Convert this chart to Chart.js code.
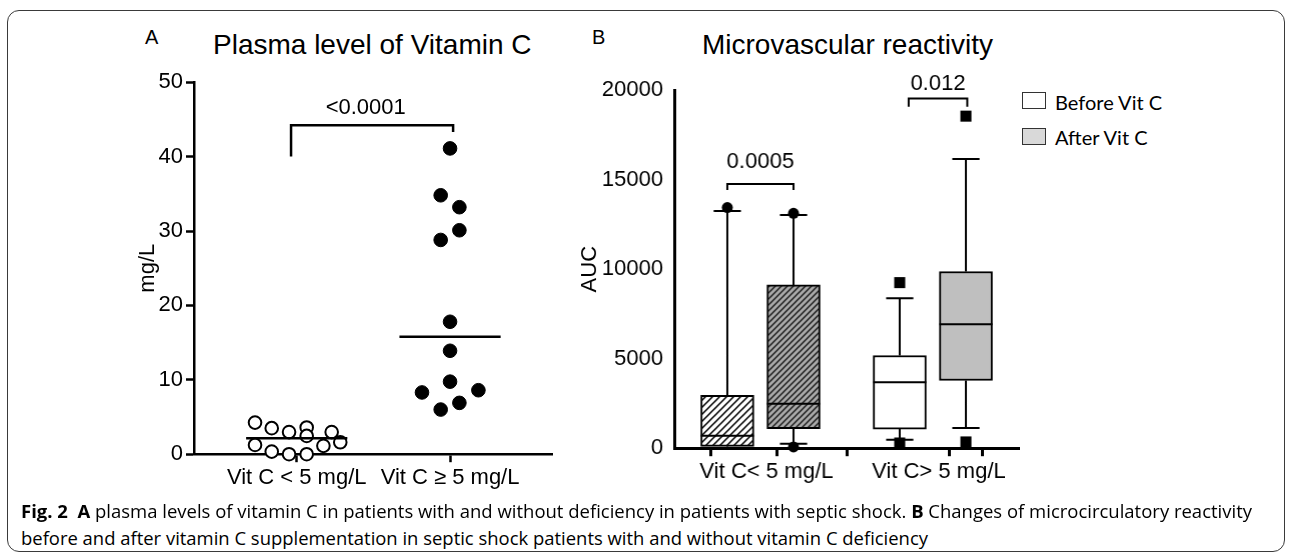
<!DOCTYPE html>
<html>
<head>
<meta charset="utf-8">
<script src="https://cdn.jsdelivr.net/npm/chart.js@4.4.1/dist/chart.umd.min.js"></script>
<style>
  html, body { margin: 0; padding: 0; background: #fff; }
  body { width: 1292px; height: 559px; position: relative; overflow: hidden; font-family: "Liberation Sans", Arial, sans-serif; color: #000; }
  #frame { position: absolute; left: 7px; top: 10px; width: 1278px; height: 542px; border: 1.5px solid #3a3a3a; border-radius: 12px; box-sizing: border-box; }
  .wrap { position: absolute; left: 100px; top: 40px; width: 480px; height: 470px; }
  .txt { position: absolute; line-height: 1; white-space: nowrap; }
  .panel { font-size: 20px; top: 27px; }
  .title { font-size: 28px; top: 31px; }
  .key { position: absolute; left: 1022px; width: 24px; height: 17px; border: 1.5px solid #333; box-sizing: border-box; }
  .keytxt { font-family: Lato, sans-serif; font-size: 20px; left: 1055px; }
  .cap { font-family: "Open Sans", sans-serif; font-size: 18px; left: 21px; transform-origin: 0 0; }
  .cap b { font-weight: 700; }
</style>
</head>
<body>
<div id="frame"></div>

<div class="txt panel" style="left:145px">A</div>
<div class="txt title" style="left:213px">Plasma level of Vitamin C</div>
<div class="txt panel" style="left:592px">B</div>
<div class="txt title" style="left:702px">Microvascular reactivity</div>

<div class="key" style="top:92px; background:#fff"></div>
<div class="txt keytxt" style="top:92px">Before Vit C</div>
<div class="key" style="top:128px; background:#d9d9d9"></div>
<div class="txt keytxt" style="top:127px">After Vit C</div>

<div class="wrap"><canvas id="plasma"></canvas></div>
<div class="wrap"><canvas id="reactivity"></canvas></div>

<div class="txt cap" data-w="1231" style="top:502px"><b>Fig. 2</b>&nbsp; <b>A</b> plasma levels of vitamin C in patients with and without deficiency in patients with septic shock. <b>B</b> Changes of microcirculatory reactivity</div>
<div class="txt cap" data-w="907" style="top:529px">before and after vitamin C supplementation in septic shock patients with and without vitamin C deficiency</div>

<script>
// ---- Panel A: plasma vitamin C (mg/L), one dot per patient
const groupsA = ['Vit C < 5 mg/L', 'Vit C ≥ 5 mg/L'];
const lowVitC = [4.25, 3.5, 2.97, 3.59, 2.46, 2.97, 1.61, 1.25, 0.35, 0, 0, 1.12];
const lowJitter = [-0.272, -0.163, -0.05, 0.065, 0.065, 0.228, 0.284, -0.272, -0.163, -0.05, 0.065, 0.174];
const highVitC = [41.1, 34.8, 33.2, 30.1, 28.8, 17.8, 13.9, 9.75, 8.3, 8.6, 6.9, 6.0];
const highJitter = [0, -0.061, 0.061, 0.061, -0.061, 0, 0, 0, -0.183, 0.185, 0.061, -0.061];
const meansA = [2.15, 15.8];
const pValueA = '<0.0001';

// ---- Panel B: AUC box plots, [q1, median, q3] and whiskers [low, high]
const groupsB = ['Vit C< 5 mg/L', 'Vit C> 5 mg/L'];
const seriesB = ['Before Vit C', 'After Vit C'];
const beforeBox = [[100, 700, 2950], [1070, 3690, 5180]];
const afterBox = [[1090, 2480, 9120], [3780, 6930, 9870]];
const beforeWhisk = [[0, 13250], [470, 8380]];
const afterWhisk = [[250, 13030], [1130, 16150]];
const beforeOut = [[13440], [9250, 290]];
const afterOut = [[13120, 70], [18550, 350]];
const pValuesB = ['0.0005', '0.012'];

Chart.defaults.font.family = '"Liberation Sans", Arial, sans-serif';
Chart.defaults.color = '#000';

const BOX_OFF = 0.192;   // offset of before/after boxes from group centre

// diagonal hatch fill
function hatch(bg, line, step, width) {
  const c = document.createElement('canvas');
  c.width = c.height = step;
  const g = c.getContext('2d');
  g.fillStyle = bg;
  g.fillRect(0, 0, step, step);
  g.strokeStyle = line;
  g.lineWidth = width;
  g.beginPath();
  g.moveTo(-1, step + 1); g.lineTo(step + 1, -1);
  g.moveTo(-step / 2 - 1, step / 2 + 1); g.lineTo(step / 2 + 1, -step / 2 - 1);
  g.moveTo(step / 2 - 1, step * 1.5 + 1); g.lineTo(step * 1.5 + 1, step / 2 - 1);
  g.stroke();
  return g.createPattern(c, 'repeat');
}

// text labels placed in data coordinates
const notes = {
  id: 'notes',
  afterDatasetsDraw(chart, args, opts) {
    const {ctx, scales: {x, y}} = chart;
    ctx.save();
    ctx.font = opts.font;
    ctx.fillStyle = '#000';
    ctx.textAlign = 'center';
    ctx.textBaseline = 'middle';
    opts.items.forEach(n => ctx.fillText(n.text, x.getPixelForValue(n.x), y.getPixelForValue(n.y)));
    ctx.restore();
  }
};

function bracket(x0, x1, top, leg0, leg1) {
  return [{x: x0, y: leg0}, {x: x0, y: top}, {x: x1, y: top}, {x: x1, y: leg1}];
}

// whiskers, caps and medians as one broken line
function boxLines(xs, boxes, whisk, capHalf, boxHalf) {
  const pts = [];
  xs.forEach((x, i) => {
    const [q1, med, q3] = boxes[i];
    const [lo, hi] = whisk[i];
    pts.push({x, y: q3}, {x, y: hi}, {x, y: null});
    pts.push({x: x - capHalf, y: hi}, {x: x + capHalf, y: hi}, {x, y: null});
    pts.push({x, y: q1}, {x, y: lo}, {x, y: null});
    pts.push({x: x - capHalf, y: lo}, {x: x + capHalf, y: lo}, {x, y: null});
    pts.push({x: x - boxHalf, y: med}, {x: x + boxHalf, y: med}, {x, y: null});
  });
  return pts;
}

function axisOpts(width) {
  return {
    border: { display: true, color: '#000', width },
    grid: { drawOnChartArea: false, drawTicks: true, tickLength: 8, tickWidth: width, color: '#000' }
  };
}

// ---------------- Panel A
const axA = axisOpts(2.5);
const chartA = new Chart(document.getElementById('plasma'), {
  type: 'scatter',
  data: {
    datasets: [
      {
        type: 'line',
        data: [{x: 0.67, y: meansA[0]}, {x: 1.33, y: meansA[0]}, {x: 1.5, y: null},
               {x: 1.67, y: meansA[1]}, {x: 2.33, y: meansA[1]}],
        borderColor: '#000', borderWidth: 2.5, pointRadius: 0, clip: false, order: 0
      },
      {
        type: 'line',
        data: bracket(0.963, 2.02, 44.2, 40, 43.3),
        borderColor: '#000', borderWidth: 2.5, pointRadius: 0, clip: false, order: 0
      },
      {
        data: lowVitC.map((v, i) => ({x: 1 + lowJitter[i], y: v})),
        pointRadius: 6.3, pointBorderWidth: 2, pointBorderColor: '#000', pointBackgroundColor: '#fff',
        clip: false, order: 1
      },
      {
        data: highVitC.map((v, i) => ({x: 2 + highJitter[i], y: v})),
        pointRadius: 6.8, pointBorderWidth: 1, pointBorderColor: '#000', pointBackgroundColor: '#000',
        clip: false, order: 1
      }
    ]
  },
  options: {
    responsive: true,
    maintainAspectRatio: false,
    animation: false,
    events: [],
    layout: { padding: 0 },
    plugins: {
      legend: { display: false },
      tooltip: { enabled: false },
      notes: { font: '22px "Liberation Sans", Arial', items: [{x: 1.45, y: 46.6, text: pValueA}] }
    },
    scales: {
      x: {
        type: 'linear', min: 0.33, max: 2.665, offset: false,
        ...axA,
        afterBuildTicks: s => { s.ticks = [{value: 1}, {value: 2}]; },
        afterFit: s => { s.height = 48; },
        ticks: { autoSkip: false, maxRotation: 0, padding: 3, font: { size: 22 },
                 callback: v => groupsA[Math.round(v) - 1] }
      },
      y: {
        min: 0, max: 50,
        ...axA,
        afterFit: s => { s.width = 63; },
        ticks: { stepSize: 10, padding: 3, font: { size: 22 }, callback: v => v },
        title: { display: true, text: 'mg/L', font: { size: 22 }, padding: { top: 4, bottom: 0 } }
      }
    }
  },
  plugins: [notes]
});

// ---------------- Panel B
const xsBefore = groupsB.map((g, i) => i + 1 - BOX_OFF);
const xsAfter = groupsB.map((g, i) => i + 1 + BOX_OFF);
const tickValsB = [...xsBefore, 1, 2, ...xsAfter].sort((a, b) => a - b);
const outPoints = (xs, out) => out.flatMap((vals, i) => vals.map(v => ({x: xs[i], y: v})));
const isGroup1 = c => c.raw && c.raw.x < 1.5;

const axB = axisOpts(3);
axB.grid.tickColor = c => (c.tick && Number.isInteger(c.tick.value)) ? 'rgba(0,0,0,0)' : '#000';

const outlierStyle = {
  type: 'scatter',
  pointStyle: c => isGroup1(c) ? 'circle' : 'rect',
  pointRadius: c => isGroup1(c) ? 5.5 : 7.8,
  pointBackgroundColor: '#000', pointBorderColor: '#000', pointBorderWidth: 0,
  clip: false, order: 0
};

const chartB = new Chart(document.getElementById('reactivity'), {
  type: 'bar',
  data: {
    datasets: [
      {
        label: seriesB[0],
        data: beforeBox.map((b, i) => ({x: xsBefore[i], y: [b[0], b[2]]})),
        backgroundColor: [hatch('#ffffff', '#000', 7, 1.5), '#ffffff'],
        borderColor: '#000', borderWidth: 2, borderSkipped: false,
        barThickness: 53, grouped: false, order: 3
      },
      {
        label: seriesB[1],
        data: afterBox.map((b, i) => ({x: xsAfter[i], y: [b[0], b[2]]})),
        backgroundColor: [hatch('#a8a8a8', '#1a1a1a', 6, 1.4), '#bfbfbf'],
        borderColor: '#000', borderWidth: 2, borderSkipped: false,
        barThickness: 53, grouped: false, order: 3
      },
      {
        type: 'line',
        data: boxLines(xsBefore, beforeBox, beforeWhisk, 0.079, 0.154),
        borderColor: '#000', borderWidth: 2, pointRadius: 0, clip: false, order: 1
      },
      {
        type: 'line',
        data: boxLines(xsAfter, afterBox, afterWhisk, 0.079, 0.154),
        borderColor: '#000', borderWidth: 2, pointRadius: 0, clip: false, order: 1
      },
      {
        type: 'line',
        data: bracket(xsBefore[0], xsAfter[0], 14760, 14430, 14430),
        borderColor: '#000', borderWidth: 2, pointRadius: 0, clip: false, order: 1
      },
      {
        type: 'line',
        data: bracket(1.86, 2.2, 19540, 19080, 19080),
        borderColor: '#000', borderWidth: 2, pointRadius: 0, clip: false, order: 1
      },
      { ...outlierStyle, data: outPoints(xsBefore, beforeOut) },
      { ...outlierStyle, data: outPoints(xsAfter, afterOut) }
    ]
  },
  options: {
    responsive: true,
    maintainAspectRatio: false,
    animation: false,
    events: [],
    layout: { padding: 0 },
    plugins: {
      legend: { display: false },
      tooltip: { enabled: false },
      notes: { font: '22px "Liberation Sans", Arial', items: [
        {x: 1.0, y: 16000, text: pValuesB[0]},
        {x: 2.03, y: 20370, text: pValuesB[1]}
      ] }
    },
    scales: {
      x: {
        type: 'linear', min: 0.5, max: 2.5, offset: false,
        ...axB,
        afterBuildTicks: s => { s.ticks = tickValsB.map(v => ({value: v})); },
        afterFit: s => { s.height = 48; },
        ticks: { autoSkip: false, maxRotation: 0, padding: 3, labelOffset: 6, font: { size: 22 },
                 callback: v => Number.isInteger(v) ? groupsB[v - 1] : '' }
      },
      y: {
        min: 0, max: 20000,
        ...axB,
        afterFit: s => { s.width = 101; },
        ticks: { stepSize: 5000, padding: 3, font: { size: 22 }, callback: v => String(v) },
        title: { display: true, text: 'AUC', font: { size: 22 }, padding: { top: 4, bottom: 0 } }
      }
    }
  },
  plugins: [notes]
});

// move each chart so its plot area sits where the reference has it
function place(chart, box) {
  const wrap = chart.canvas.parentNode;
  let a = chart.chartArea;
  wrap.style.width = (wrap.clientWidth + (box.r - box.l) - (a.right - a.left)) + 'px';
  wrap.style.height = (wrap.clientHeight + (box.b - box.t) - (a.bottom - a.top)) + 'px';
  chart.resize();
  a = chart.chartArea;
  wrap.style.left = (box.l - a.left) + 'px';
  wrap.style.top = (box.t - a.top) + 'px';
}
place(chartA, {l: 194, r: 552, t: 82, b: 454});
place(chartB, {l: 674, r: 1018, t: 90, b: 448});

// squeeze the caption lines to the reference line lengths
function fitCaption() {
  document.querySelectorAll('.cap').forEach(el => {
    el.style.transform = 'none';
    const w = el.getBoundingClientRect().width;
    el.style.transform = 'scaleX(' + (el.dataset.w / w) + ')';
  });
}
fitCaption();
if (document.fonts) document.fonts.ready.then(fitCaption);
</script>
</body>
</html>
